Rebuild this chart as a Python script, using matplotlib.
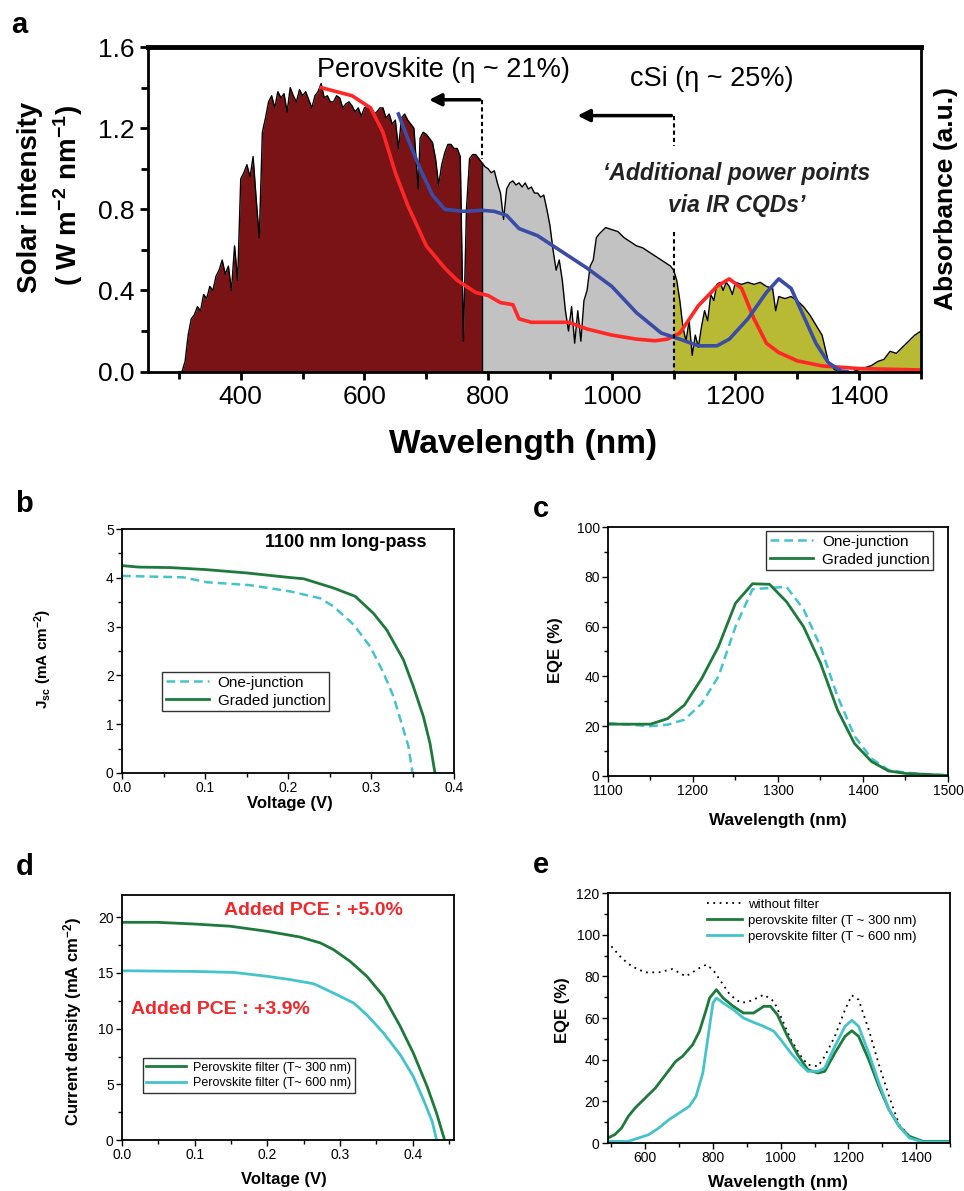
import numpy as np
import matplotlib.pyplot as plt
from matplotlib.ticker import MultipleLocator

plt.rcParams['font.family'] = ['Liberation Sans', 'DejaVu Sans']
plt.rcParams['mathtext.default'] = 'regular'

# ---- panel a: AM1.5 spectrum + absorbance curves ----
sun_wl = [300, 305, 310, 315, 320, 325, 330, 335, 340, 345,
          350, 355, 360, 365, 370, 375, 380, 385, 390, 395,
          400, 405, 410, 415, 420, 425, 430, 435, 440, 445,
          450, 455, 460, 465, 470, 475, 480, 485, 490, 495,
          500, 505, 510, 515, 520, 525, 530, 535, 540, 545,
          550, 555, 560, 565, 570, 575, 580, 585, 590, 595,
          600, 605, 610, 615, 620, 625, 630, 635, 640, 645,
          650, 655, 660, 665, 670, 675, 680, 687, 690, 695,
          700, 705, 710, 715, 720, 725, 730, 735, 740, 745,
          750, 755, 760, 765, 770, 775, 780, 785, 790, 795,
          800, 805, 810, 815, 820, 825, 830, 835, 840, 845,
          850, 855, 860, 865, 870, 875, 880, 885, 890, 895,
          900, 905, 910, 915, 920, 925, 930, 935, 940, 945,
          950, 955, 960, 965, 970, 975, 980, 990, 1000, 1010,
          1020, 1030, 1040, 1050, 1060, 1070, 1080, 1090, 1095, 1100,
          1105, 1110, 1115, 1120, 1125, 1130, 1135, 1140, 1145, 1150,
          1155, 1160, 1165, 1170, 1175, 1180, 1185, 1190, 1195, 1200,
          1210, 1220, 1230, 1240, 1250, 1260, 1265, 1270, 1280, 1290,
          1300, 1310, 1320, 1330, 1340, 1350, 1360, 1370, 1380, 1390,
          1400, 1410, 1420, 1430, 1440, 1450, 1460, 1470, 1480, 1490,
          1500]
sun_val = [0.0, 0.0, 0.05, 0.18, 0.26, 0.28, 0.32, 0.30, 0.38, 0.36,
           0.42, 0.40, 0.47, 0.50, 0.55, 0.48, 0.52, 0.40, 0.62, 0.45,
           0.95, 0.98, 1.02, 0.96, 1.06, 0.85, 0.66, 1.18, 1.25, 1.33,
           1.36, 1.30, 1.38, 1.35, 1.37, 1.28, 1.40, 1.36, 1.33, 1.39,
           1.36, 1.38, 1.34, 1.30, 1.36, 1.38, 1.42, 1.35, 1.36, 1.33,
           1.33, 1.36, 1.35, 1.30, 1.32, 1.33, 1.31, 1.28, 1.30, 1.26,
           1.30, 1.31, 1.29, 1.27, 1.28, 1.30, 1.30, 1.25, 1.27, 1.22,
           1.24, 1.10, 1.25, 1.27, 1.24, 1.22, 1.20, 0.90, 1.15, 1.18,
           1.17, 1.15, 1.13, 1.05, 0.92, 1.02, 1.08, 1.12, 1.12, 1.10,
           1.10, 1.06, 0.15, 0.80, 1.05, 1.07, 1.07, 1.05, 1.03, 1.01,
           1.00, 0.98, 0.99, 0.93, 0.88, 0.75, 0.90, 0.93, 0.94, 0.92,
           0.93, 0.91, 0.93, 0.90, 0.91, 0.88, 0.88, 0.86, 0.87, 0.80,
           0.72, 0.60, 0.50, 0.55, 0.45, 0.30, 0.20, 0.32, 0.14, 0.30,
           0.15, 0.35, 0.40, 0.52, 0.55, 0.66, 0.68, 0.71, 0.70, 0.69,
           0.66, 0.64, 0.62, 0.61, 0.59, 0.57, 0.55, 0.53, 0.52, 0.50,
           0.45, 0.35, 0.22, 0.15, 0.25, 0.08, 0.18, 0.12, 0.22, 0.30,
           0.25, 0.38, 0.35, 0.43, 0.44, 0.40, 0.44, 0.42, 0.38, 0.44,
           0.43, 0.44, 0.43, 0.44, 0.42, 0.41, 0.30, 0.37, 0.36, 0.37,
           0.35, 0.32, 0.28, 0.23, 0.18, 0.05, 0.01, 0.0, 0.0, 0.0,
           0.01, 0.02, 0.03, 0.05, 0.06, 0.10, 0.09, 0.12, 0.15, 0.18,
           0.20]

pero_wl = [530, 580, 610, 630, 650, 670, 700, 730, 750, 780, 800, 820, 840, 850, 870,
           900, 930, 960, 1000, 1040, 1070, 1090, 1110, 1140, 1170, 1190, 1210, 1230,
           1250, 1270, 1300, 1340, 1400, 1500]
pero_abs = [1.40, 1.36, 1.30, 1.18, 0.98, 0.82, 0.62, 0.51, 0.45, 0.39, 0.375, 0.34, 0.33,
            0.26, 0.243, 0.243, 0.243, 0.21, 0.18, 0.16, 0.152, 0.16, 0.19, 0.325, 0.42,
            0.457, 0.41, 0.26, 0.14, 0.094, 0.053, 0.028, 0.015, 0.008]

cqd_wl = [655, 670, 690, 710, 730, 760, 790, 810, 830, 850, 880, 920, 960, 1000, 1040,
          1080, 1110, 1140, 1170, 1190, 1220, 1250, 1270, 1290, 1310, 1330, 1350, 1370, 1380]
cqd_abs = [1.27, 1.15, 1.0, 0.87, 0.80, 0.79, 0.795, 0.79, 0.77, 0.705, 0.67, 0.59, 0.51,
           0.42, 0.29, 0.19, 0.16, 0.127, 0.127, 0.16, 0.26, 0.39, 0.457, 0.41, 0.275,
           0.14, 0.045, 0.003, 0.0]

# ---- panel b ----
vb_graded = [0, 0.02, 0.058, 0.1, 0.15, 0.2, 0.219, 0.255, 0.281, 0.303, 0.319, 0.339,
             0.351, 0.363, 0.371, 0.377]
jb_graded = [4.25, 4.22, 4.21, 4.17, 4.1, 4.01, 3.98, 3.79, 3.62, 3.27, 2.93, 2.32,
             1.77, 1.16, 0.61, 0.0]
vb_one = [0, 0.074, 0.102, 0.154, 0.203, 0.239, 0.255, 0.279, 0.299, 0.315, 0.327,
          0.339, 0.345, 0.350]
jb_one = [4.04, 4.01, 3.91, 3.85, 3.72, 3.58, 3.41, 3.04, 2.59, 2.05, 1.57, 0.89, 0.55, 0.0]

# ---- panel c ----
wc_graded = [1100, 1150, 1170, 1190, 1210, 1230, 1250, 1270, 1290, 1310, 1330, 1350,
             1370, 1390, 1410, 1430, 1450, 1500]
eqe_graded = [20.8, 20.8, 23, 28.5, 39, 52, 69.4, 77.2, 77, 70, 60, 45.3, 26.5, 13,
              5.8, 2, 1, 0.2]
wc_one = [1100, 1150, 1170, 1190, 1210, 1230, 1250, 1270, 1290, 1310, 1330, 1350, 1370,
          1390, 1410, 1430, 1450, 1470, 1500]
eqe_one = [21.2, 20, 20.6, 22.6, 29, 40, 60, 75, 75.5, 76, 67, 52, 32, 16, 7, 2.4, 1.3,
           0.8, 0.2]

# ---- panel d ----
vd_300 = [0, 0.048, 0.099, 0.149, 0.2, 0.245, 0.273, 0.291, 0.314, 0.337, 0.36, 0.383,
          0.401, 0.42, 0.433, 0.444]
jd_300 = [19.55, 19.55, 19.4, 19.2, 18.74, 18.23, 17.7, 17.1, 16.04, 14.7, 12.9, 10.2,
          7.8, 4.8, 2.4, 0.0]
vd_600 = [0, 0.099, 0.154, 0.2, 0.232, 0.264, 0.291, 0.319, 0.337, 0.36, 0.383, 0.401,
          0.415, 0.427, 0.433]
jd_600 = [15.2, 15.14, 15.05, 14.7, 14.4, 14.03, 13.2, 12.3, 11.24, 9.6, 7.65, 5.7, 3.6,
          1.65, 0.0]

# ---- panel e ----
we_nofilt = [500, 530, 560, 600, 640, 680, 720, 760, 780, 800, 820, 850, 880, 900, 930,
             950, 980, 1000, 1030, 1060, 1080, 1110, 1130, 1160, 1190, 1210, 1230, 1260,
             1290, 1320, 1350, 1380, 1410, 1500]
eqe_nofilt = [94.4, 88.8, 84.8, 81.9, 81.9, 83.5, 80, 84, 85.6, 83.2, 78.4, 71.2, 67.5,
              67.5, 69.6, 71.2, 68, 60.8, 49.6, 41.6, 37.6, 36.8, 41.6, 51.2, 64, 70.9,
              68.8, 54.4, 37.6, 22.4, 8.8, 3.2, 0.8, 0.3]
we_300 = [490, 510, 530, 550, 570, 600, 630, 660, 690, 710, 740, 760, 780, 790, 810, 830,
          860, 890, 920, 950, 970, 990, 1020, 1050, 1080, 1110, 1130, 1160, 1190, 1210,
          1230, 1260, 1290, 1320, 1350, 1380, 1420, 1500]
eqe_300 = [2.4, 4, 7.2, 12.8, 16.8, 21.6, 26.4, 32.8, 39.2, 41.6, 47.2, 53.6, 64, 69.6,
           73.6, 69.6, 65.6, 62.4, 62.4, 65.6, 65.6, 61.6, 51.2, 42.4, 35.2, 33.6, 34.4,
           43.2, 51.2, 53.9, 51.2, 40, 27.2, 16, 8, 3.2, 0.8, 0.8]
we_600 = [490, 550, 580, 610, 640, 670, 700, 730, 750, 770, 790, 800, 810, 830, 860, 890,
          920, 950, 980, 1000, 1030, 1060, 1080, 1110, 1130, 1160, 1190, 1210, 1230, 1260,
          1290, 1320, 1350, 1380, 1420, 1500]
eqe_600 = [0.8, 0.8, 2.4, 4, 7.2, 11.2, 14.4, 17.6, 22.4, 33.6, 56, 67.2, 69.6, 67.2, 64,
           60, 57.9, 56, 53.6, 49.6, 43.2, 37.6, 34.4, 34.4, 36, 46.4, 56, 58.9, 56, 43.2,
           28.8, 16, 8, 2.4, 0.5, 0.5]

green = '#1E7A3C'
cyan = '#45C3CB'

fig = plt.figure(figsize=(9.64, 11.91), dpi=100)

# ================= a =================
ax = fig.add_axes([0.1535, 0.6880, 0.8019, 0.2725])
wl = np.array(sun_wl)
s = np.array(sun_val)
ax.fill_between(wl, s, where=wl <= 790, color='#7A1316', lw=0)
ax.fill_between(wl, s, where=(wl >= 790) & (wl <= 1100), color='#C2C2C2', lw=0)
ax.fill_between(wl, s, where=wl >= 1100, color='#B9BA33', lw=0)
ax.plot(wl, s, color='black', lw=1.0)
ax.plot([790, 790], [0, s[wl == 790][0]], color='black', lw=1.0)
ax.plot(pero_wl, pero_abs, color='#FF2626', lw=2.6)
ax.plot(cqd_wl, cqd_abs, color='#3A4CA5', lw=2.6)

ax.plot([790, 790], [1.34, 1.05], color='black', lw=1.5, ls=(0, (2, 1.5)))
ax.annotate('', xy=(700, 1.34), xytext=(791, 1.34),
            arrowprops=dict(arrowstyle='-|>', color='black', lw=2.5, mutation_scale=18))
ax.plot([1100, 1100], [1.262, 1.11], color='black', lw=1.5, ls=(0, (2, 1.5)))
ax.plot([1100, 1100], [0.69, 0.0], color='black', lw=1.5, ls=(0, (2, 1.5)))
ax.annotate('', xy=(940, 1.262), xytext=(1101, 1.262),
            arrowprops=dict(arrowstyle='-|>', color='black', lw=2.5, mutation_scale=18))

ax.text(728, 1.487, 'Perovskite (\u03b7 ~ 21%)', ha='center', va='center', fontsize=19.5)
ax.text(1162, 1.44, 'cSi (\u03b7 ~ 25%)', ha='center', va='center', fontsize=19.5)
ax.text(1202, 0.977, '\u2018Additional power points', ha='center', va='center',
        fontsize=16.5, fontweight='bold', fontstyle='italic', color='#222222')
ax.text(1202, 0.82, 'via IR CQDs\u2019', ha='center', va='center',
        fontsize=16.5, fontweight='bold', fontstyle='italic', color='#222222')

ax.set_xlim(250, 1500)
ax.set_ylim(0, 1.6)
ax.xaxis.set_minor_locator(MultipleLocator(100))
ax.yaxis.set_minor_locator(MultipleLocator(0.2))
ax.set_xticks([400, 600, 800, 1000, 1200, 1400])
ax.set_yticks([0.0, 0.4, 0.8, 1.2, 1.6])
ax.set_yticklabels(['0.0', '0.4', '0.8', '1.2', '1.6'])
ax.tick_params(which='both', direction='out', width=2, labelsize=19)
ax.tick_params(which='major', length=6)
ax.tick_params(which='minor', length=5)
for sp in ax.spines.values():
    sp.set_linewidth(2)
ax.spines['top'].set_linewidth(3.5)

fig.text(0.031, 0.834, 'Solar intensity', rotation=90, ha='center', va='center',
         fontsize=20, fontweight='bold')
fig.text(0.071, 0.836, r'( W m$^{-2}$ nm$^{-1}$)', rotation=90, ha='center', va='center',
         fontsize=20, fontweight='bold')
fig.text(0.981, 0.833, 'Absorbance (a.u.)', rotation=90, ha='center', va='center',
         fontsize=19, fontweight='bold')
fig.text(0.5425, 0.6264, 'Wavelength (nm)', ha='center', va='center', fontsize=24,
         fontweight='bold')
fig.text(0.012, 0.9723, 'a', fontsize=21, fontweight='bold', va='baseline')


def style_small(ax):
    ax.tick_params(which='both', direction='out', width=1, labelsize=10, pad=2)
    ax.tick_params(which='major', length=4)
    ax.tick_params(which='minor', length=3)
    for sp in ax.spines.values():
        sp.set_linewidth(1.3)


# ================= b =================
ax = fig.add_axes([0.1266, 0.3510, 0.3444, 0.2048])
ax.plot(vb_one, jb_one, color=cyan, lw=1.8, ls=(0, (3.5, 2)), label='One-junction')
ax.plot(vb_graded, jb_graded, color=green, lw=2.0, label='Graded junction')
ax.set_xlim(0, 0.4)
ax.set_ylim(0, 5)
ax.xaxis.set_minor_locator(MultipleLocator(0.05))
ax.yaxis.set_major_locator(MultipleLocator(1))
ax.yaxis.set_minor_locator(MultipleLocator(0.5))
ax.set_xticks([0, 0.1, 0.2, 0.3, 0.4])
ax.set_xticklabels(['0.0', '0.1', '0.2', '0.3', '0.4'])
style_small(ax)
ax.text(0.27, 4.72, '1100 nm long-pass', ha='center', va='center', fontsize=13,
        fontweight='bold')
ax.legend(loc='upper left', bbox_to_anchor=(0.168, 0.4358), bbox_transform=fig.transFigure,
          fontsize=11, frameon=True, fancybox=False, edgecolor='black', handlelength=2.8,
          borderaxespad=0, borderpad=0.25, labelspacing=0.25, handletextpad=0.6)
fig.text(0.301, 0.325, 'Voltage (V)', ha='center', va='center', fontsize=12,
         fontweight='bold')
fig.text(0.045, 0.447, r'J$_{sc}$ (mA cm$^{-2}$)', rotation=90, ha='center', va='center',
         fontsize=11, fontweight='bold')
fig.text(0.016, 0.570, 'b', fontsize=21, fontweight='bold', va='baseline')

# ================= c =================
ax = fig.add_axes([0.6307, 0.3485, 0.3527, 0.2090])
ax.plot(wc_one, eqe_one, color=cyan, lw=1.8, ls=(0, (3.5, 2)), label='One-junction')
ax.plot(wc_graded, eqe_graded, color=green, lw=2.0, label='Graded junction')
ax.set_xlim(1100, 1500)
ax.set_ylim(0, 100)
ax.xaxis.set_major_locator(MultipleLocator(100))
ax.xaxis.set_minor_locator(MultipleLocator(50))
ax.yaxis.set_major_locator(MultipleLocator(20))
ax.yaxis.set_minor_locator(MultipleLocator(10))
style_small(ax)
ax.legend(loc='upper left', bbox_to_anchor=(0.7946, 0.5542), bbox_transform=fig.transFigure,
          fontsize=11, frameon=True, fancybox=False, edgecolor='black', handlelength=2.8,
          borderaxespad=0, borderpad=0.25, labelspacing=0.25, handletextpad=0.6)
fig.text(0.807, 0.3115, 'Wavelength (nm)', ha='center', va='center', fontsize=12.3,
         fontweight='bold')
fig.text(0.576, 0.454, 'EQE (%)', rotation=90, ha='center', va='center', fontsize=12,
         fontweight='bold')
fig.text(0.553, 0.566, 'c', fontsize=21, fontweight='bold', va='baseline')

# ================= d =================
ax = fig.add_axes([0.1266, 0.0428, 0.3444, 0.2057])
ax.plot(vd_300, jd_300, color=green, lw=2.0, label='Perovskite filter (T~ 300 nm)')
ax.plot(vd_600, jd_600, color=cyan, lw=2.0, label='Perovskite filter (T~ 600 nm)')
ax.set_xlim(0, 0.457)
ax.set_ylim(0, 22)
ax.set_xticks([0, 0.1, 0.2, 0.3, 0.4])
ax.set_xticklabels(['0.0', '0.1', '0.2', '0.3', '0.4'])
ax.xaxis.set_minor_locator(MultipleLocator(0.05))
ax.yaxis.set_major_locator(MultipleLocator(5))
ax.yaxis.set_minor_locator(MultipleLocator(2.5))
style_small(ax)
ax.text(0.263, 20.65, 'Added PCE : +5.0%', ha='center', va='center', fontsize=14,
        fontweight='bold', color='#F0282C')
ax.text(0.135, 11.76, 'Added PCE : +3.9%', ha='center', va='center', fontsize=14,
        fontweight='bold', color='#F0282C')
ax.legend(loc='upper left', bbox_to_anchor=(0.148, 0.1117), bbox_transform=fig.transFigure,
          fontsize=9, frameon=True, fancybox=False, edgecolor='black', handlelength=3.2,
          borderaxespad=0, borderpad=0.3, labelspacing=0.3, handletextpad=0.5)
fig.text(0.294, 0.010, 'Voltage (V)', ha='center', va='center', fontsize=12,
         fontweight='bold')
fig.text(0.075, 0.142, r'Current density (mA cm$^{-2}$)', rotation=90, ha='center',
         va='center', fontsize=12, fontweight='bold')
fig.text(0.016, 0.265, 'd', fontsize=21, fontweight='bold', va='baseline')

# ================= e =================
ax = fig.add_axes([0.6307, 0.0403, 0.3548, 0.2099])
ax.plot(we_nofilt, eqe_nofilt, color='black', lw=1.3, ls=(0, (1, 2.5)), label='without filter')
ax.plot(we_300, eqe_300, color=green, lw=2.0, label='perovskite filter (T ~ 300 nm)')
ax.plot(we_600, eqe_600, color=cyan, lw=2.0, label='perovskite filter (T ~ 600 nm)')
ax.set_xlim(490, 1500)
ax.set_ylim(0, 120)
ax.set_xticks([600, 800, 1000, 1200, 1400])
ax.xaxis.set_minor_locator(MultipleLocator(100))
ax.yaxis.set_major_locator(MultipleLocator(20))
ax.yaxis.set_minor_locator(MultipleLocator(10))
style_small(ax)
ax.legend(loc='upper left', bbox_to_anchor=(0.731, 0.248), bbox_transform=fig.transFigure,
          fontsize=9.5, frameon=False, handlelength=2.6, borderaxespad=0, borderpad=0.2,
          labelspacing=0.3, handletextpad=0.5)
fig.text(0.807, 0.0075, 'Wavelength (nm)', ha='center', va='center', fontsize=12.5,
         fontweight='bold')
fig.text(0.583, 0.152, 'EQE (%)', rotation=90, ha='center', va='center', fontsize=12,
         fontweight='bold')
fig.text(0.553, 0.267, 'e', fontsize=21, fontweight='bold', va='baseline')

fig.savefig('out.png', dpi=100)
